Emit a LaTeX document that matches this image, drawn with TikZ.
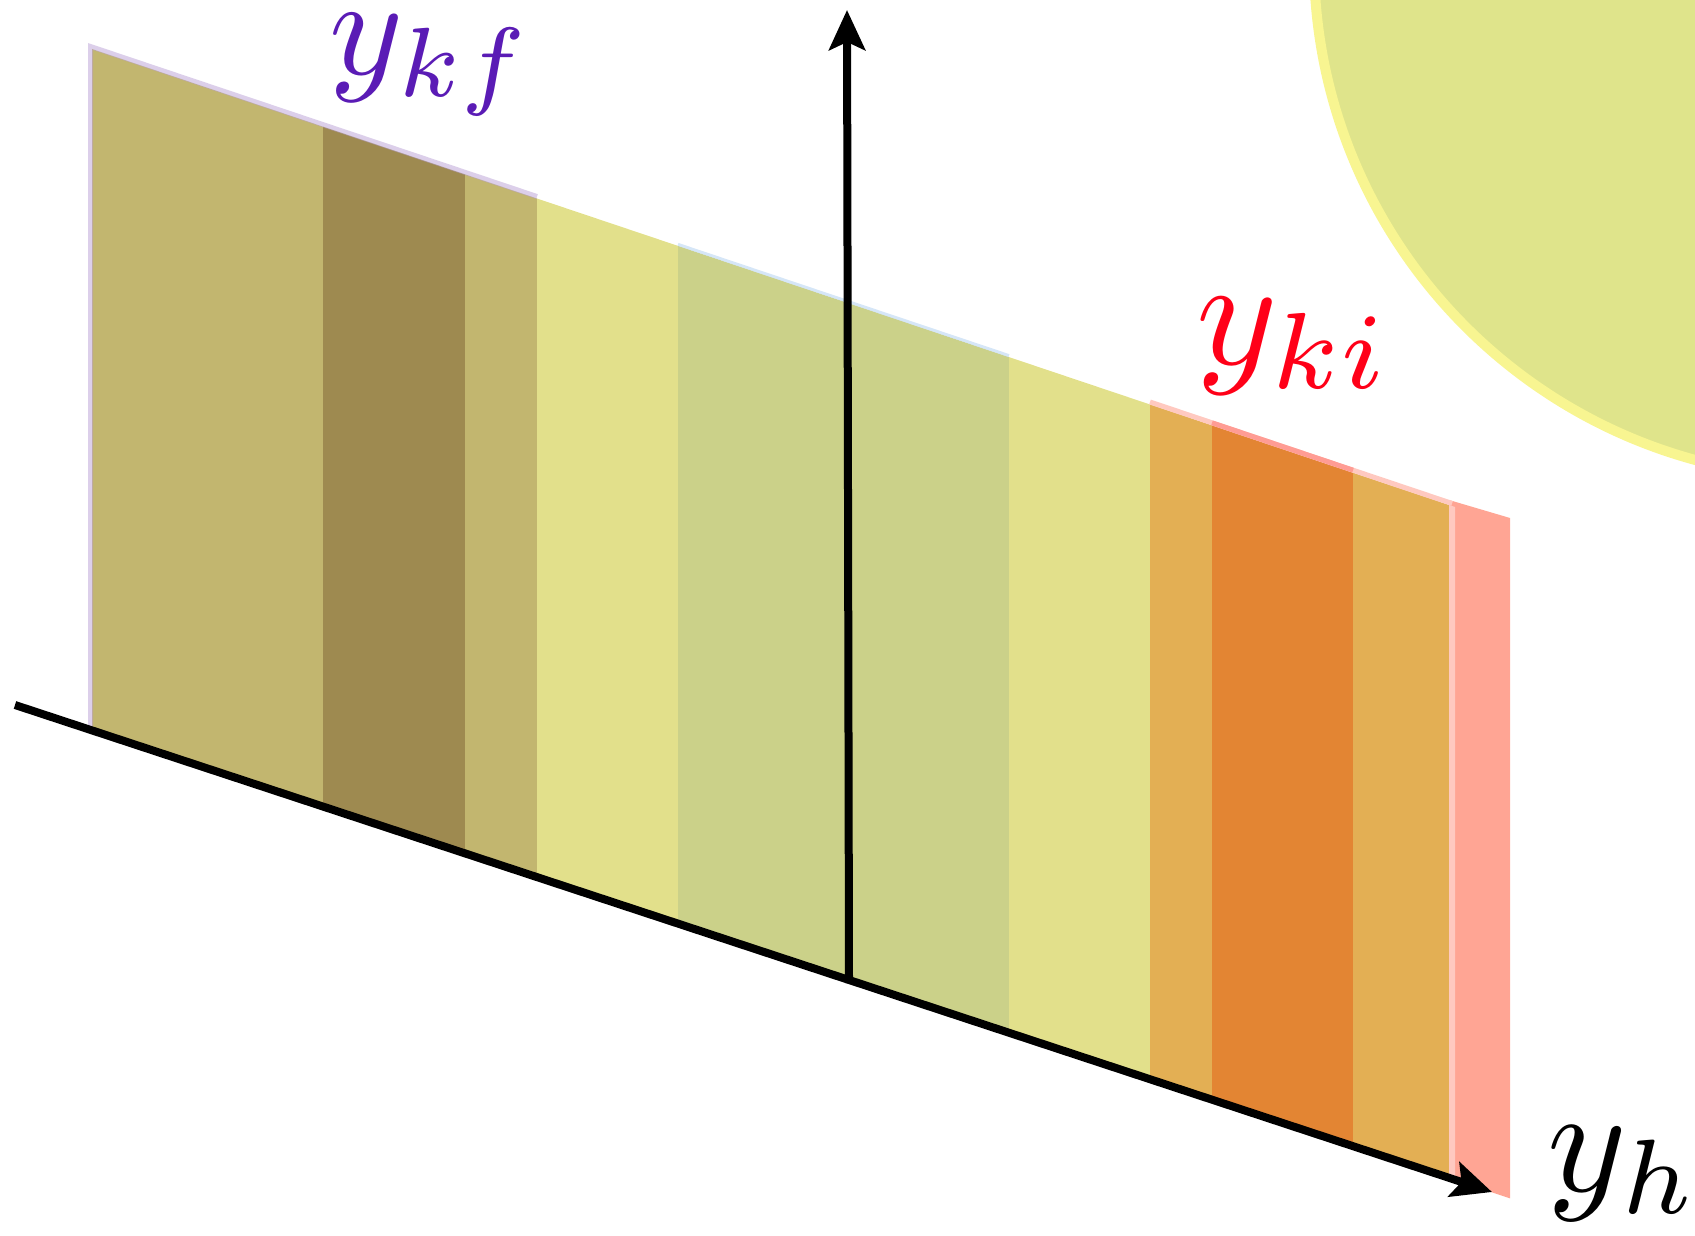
\documentclass[tikz,border=0pt]{standalone}
\usetikzlibrary{arrows.meta}
\definecolor{SliceKhaki}{HTML}{C2B66F}
\definecolor{SliceDark}{HTML}{9E8A50}
\definecolor{SlicePale}{HTML}{E2E08B}
\definecolor{SliceSage}{HTML}{CBD189}
\definecolor{SliceTan}{HTML}{E3AF54}
\definecolor{SliceOrange}{HTML}{E38533}
\definecolor{SliceSalmon}{HTML}{FFA594}
\definecolor{SliceRim}{HTML}{FFC9C0}
\definecolor{EdgeLilac}{HTML}{B9A0D6}
\definecolor{EdgeSky}{HTML}{C4DCF4}
\definecolor{EdgeRose}{HTML}{FF9C94}
\definecolor{BallFill}{HTML}{DFE48B}
\definecolor{BallRim}{HTML}{F8F591}
\definecolor{LabelViolet}{HTML}{5A1BB5}
\definecolor{LabelRed}{HTML}{FF0018}

\begin{document}
\begin{tikzpicture}[x=1cm,y=1cm,
    axis/.style={black,line width=0.08cm,
      -{Stealth[length=0.40cm,width=0.36cm,inset=0.08cm]}},
    rim/.style={line width=0.05cm},
    axlabel/.style={anchor=base west,inner sep=0,
      font=\fontsize{10}{12}\selectfont}]
  \useasboundingbox (0,0) rectangle (16.95,12.35);
  \clip (0,0) rectangle (16.95,12.35);

  % ball in the corner
  \filldraw[BallFill,draw=BallRim,line width=0.1cm]
    (18.31,12.74) circle[radius=5.17];

  % salmon strip behind the right end
  \fill[SliceSalmon]
    (14.49,{5.30-0.33*14.34}) -- (15.10,{5.30-0.33*14.95})
    -- (15.10,7.17) -- (14.49,7.35) -- cycle;

  % slice: bottom on the axis, top a bit steeper
  \foreach \xa/\xb/\col in {0.92/3.23/SliceKhaki,3.23/4.65/SliceDark,
    4.65/5.37/SliceKhaki,5.37/6.78/SlicePale,6.78/10.09/SliceSage,
    10.09/11.50/SlicePale,11.50/12.12/SliceTan,12.12/13.53/SliceOrange,
    13.53/14.49/SliceTan,14.49/14.55/SliceRim}{
    \fill[\col]
      (\xa,{5.30-0.33*(\xa-0.15)}) -- (\xb,{5.30-0.33*(\xb-0.15)})
      -- (\xb,{11.86-0.336*(\xb-0.92)}) -- (\xa,{11.86-0.336*(\xa-0.92)})
      -- cycle;
  }

  % rims of the three boxes
  \draw[EdgeLilac,opacity=0.5,rim]
    (0.905,{5.30-0.33*0.755}) -- (0.905,11.885) -- (5.37,{11.885-0.336*4.465});
  \draw[EdgeSky,opacity=0.7,line width=0.03cm]
    (6.78,{11.875-0.336*5.86}) -- (10.09,{11.875-0.336*9.17});
  \draw[SliceRim,rim]
    (11.50,{11.885-0.336*10.58}) -- (14.52,{11.885-0.336*13.60});
  \draw[EdgeRose,rim]
    (12.12,{11.885-0.336*11.20}) -- (13.53,{11.885-0.336*12.61});

  % axes
  \coordinate (hstart) at (0.15,5.30);
  \coordinate (hend) at (14.92,0.43);
  \coordinate (origin) at (8.49,2.52);
  \coordinate (vtip) at (8.47,12.25);
  \draw[axis] (hstart) -- (hend);
  \draw[axis] (origin) -- (vtip);

  \node[axlabel,text=LabelViolet,scale=4.0]
    (ykf) at (3.27,11.60) {$y_{kf}$};
  \node[axlabel,text=LabelRed,scale=4.4]
    (yki) at (11.93,8.70) {$y_{ki}$};
  \node[axlabel,scale=4.3]
    (yh) at (15.44,0.44) {$y_h$};
\end{tikzpicture}
\end{document}
